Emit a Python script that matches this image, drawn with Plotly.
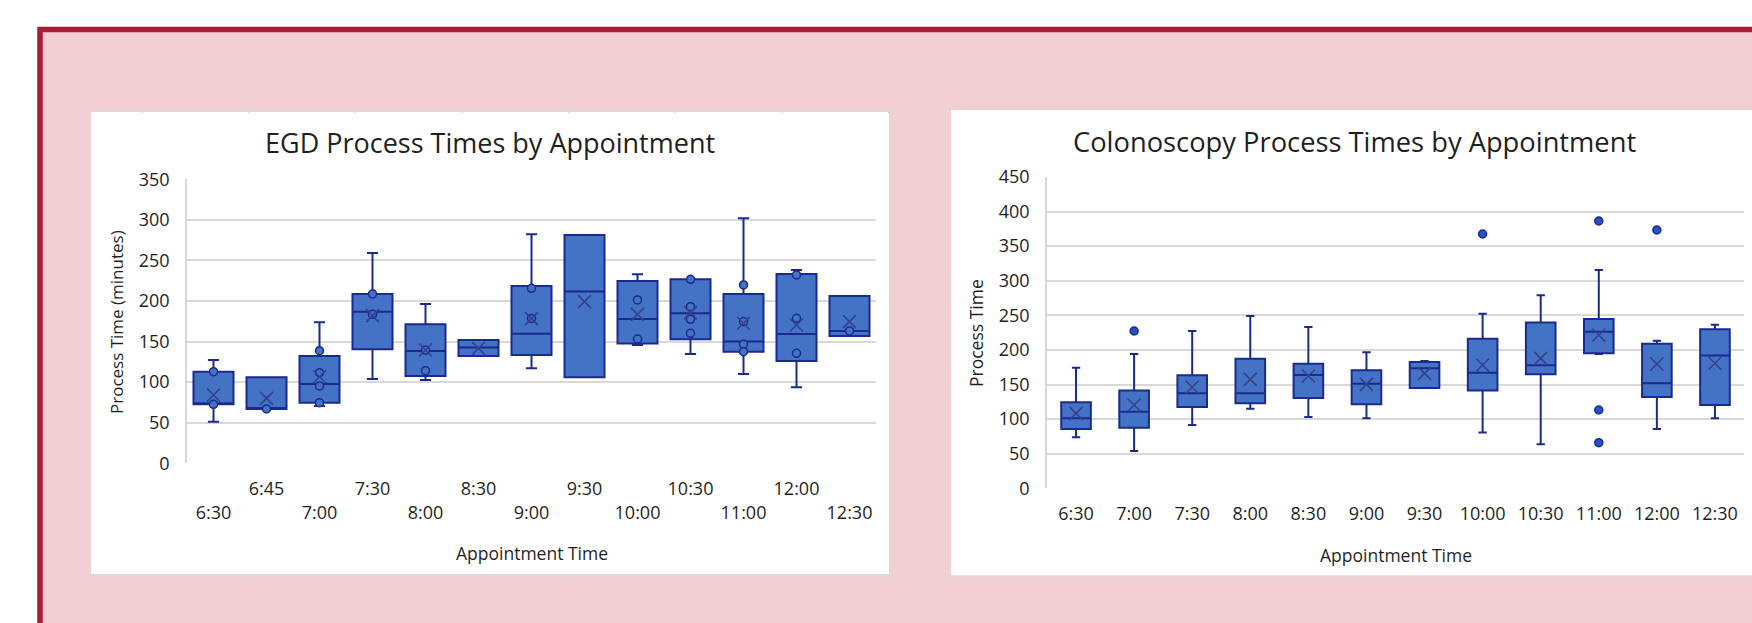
import plotly.graph_objects as go

W, H = 1752, 623

# ---------------- EGD data ----------------
egd_cats = ["6:30", "6:45", "7:00", "7:30", "8:00", "8:30", "9:00", "9:30",
            "10:00", "10:30", "11:00", "12:00", "12:30"]
egd_q1 = [72.7, 67, 74.7, 140.5, 107.6, 132.3, 133.5, 106, 147.5, 152.8, 137.6, 126.1, 156.9]
egd_median = [74, 67, 97.7, 186.9, 138.4, 142.6, 159.8, 211.6, 177.9, 184.9, 150, 159.4, 163.1]
egd_q3 = [112.9, 106, 132.2, 208.7, 171.3, 152, 218.6, 281.4, 224.7, 226.8, 208.7, 233.4, 206.2]
egd_low = [51.3, 67, 70.6, 103.9, 102.7, 132.3, 117.1, 106, 145.8, 134.8, 110.1, 93.7, 156.9]
egd_high = [127.4, 106, 173.8, 259.2, 196.3, 152, 282.3, 281.4, 233, 226.8, 302, 238.3, 206.2]
egd_mean = [84.2, 80, 106.7, 182, 139.6, 141.7, 178.3, 199.3, 183.6, 185.7, 172.6, 170.5, 174.6]
egd_pt_cat = ["6:30", "6:30", "6:45", "7:00", "7:00", "7:00", "7:00", "7:30", "7:30",
              "8:00", "8:00", "9:00", "9:00", "10:00", "10:00", "10:30", "10:30",
              "10:30", "10:30", "11:00", "11:00", "11:00", "11:00", "12:00", "12:00",
              "12:00", "12:30"]
egd_pt_val = [112.9, 72.7, 67, 138.8, 111.7, 95.3, 74.7, 208.7, 183.6,
              139.6, 114.1, 215.7, 178.3, 201.3, 153.2, 226.8, 193,
              177.5, 160.2, 219.8, 174.6, 146.7, 137.6, 232.1, 178.7,
              135.6, 163.1]

# ---------------- Colonoscopy data ----------------
col_cats = ["6:30", "7:00", "7:30", "8:00", "8:30", "9:00", "9:30",
            "10:00", "10:30", "11:00", "12:00", "12:30"]
col_q1 = [85.8, 87.7, 117.6, 122.9, 130.6, 121.4, 145, 141.2, 164.8, 195.1, 132, 120.4]
col_median = [101.2, 110.8, 137.3, 137.3, 163.8, 151.3, 173.4, 167.2, 177.8, 226.4, 151.8, 191.8]
col_q3 = [124.3, 141.2, 163.3, 187.4, 180.2, 170.6, 182.6, 216.3, 239.5, 244.8, 209.1, 229.8]
col_low = [73.7, 54, 91.5, 115.1, 103.1, 101.2, 145, 80.5, 63.6, 194.2, 85.8, 101.2]
col_high = [174.4, 194.2, 227.4, 249.1, 233.2, 196.6, 184, 252.5, 279, 315.6, 213.4, 236.6]
col_mean = [108.4, 120.4, 146, 157.5, 162.4, 150.3, 166.2, 178.3, 187.9, 221.6, 179.7, 180.7]
col_out_cat = ["7:00", "10:00", "11:00", "11:00", "11:00", "12:00"]
col_out_val = [227.4, 367.6, 386.4, 113.2, 66, 373.4]

# ---------------- styling ----------------
BOX_FILL = "#4472C4"
BOX_LINE = "#1A2A8F"
GRID = "#D9D9D9"
TXT = "#1F1F1F"
FONT = "Open Sans"


def px(x):
    return x / W


def py(y):
    return 1 - y / H


# EGD x labels staggered on two rows
egd_ticktext = [("<br>" + c) if i % 2 == 0 else c for i, c in enumerate(egd_cats)]

fig = go.Figure()

fig.add_trace(go.Box(
    x=egd_cats, q1=egd_q1, median=egd_median, q3=egd_q3,
    lowerfence=egd_low, upperfence=egd_high,
    fillcolor=BOX_FILL, line=dict(color=BOX_LINE, width=2),
    whiskerwidth=0.28, width=0.755, boxpoints=False,
    xaxis="x", yaxis="y", showlegend=False, hoverinfo="skip"))
fig.add_trace(go.Scatter(
    x=egd_pt_cat, y=egd_pt_val, mode="markers",
    marker=dict(symbol="circle", size=8, color=BOX_FILL,
                line=dict(color=BOX_LINE, width=1.5)),
    xaxis="x", yaxis="y", showlegend=False, hoverinfo="skip"))
fig.add_trace(go.Scatter(
    x=egd_cats, y=egd_mean, mode="markers",
    marker=dict(symbol="x-thin", size=13,
                line=dict(color="#34428A", width=1.6)),
    xaxis="x", yaxis="y", showlegend=False, hoverinfo="skip"))

fig.add_trace(go.Box(
    x=col_cats, q1=col_q1, median=col_median, q3=col_q3,
    lowerfence=col_low, upperfence=col_high,
    fillcolor=BOX_FILL, line=dict(color=BOX_LINE, width=2),
    whiskerwidth=0.28, width=0.51, boxpoints=False,
    xaxis="x2", yaxis="y2", showlegend=False, hoverinfo="skip"))
fig.add_trace(go.Scatter(
    x=col_out_cat, y=col_out_val, mode="markers",
    marker=dict(symbol="circle", size=8, color="#2453C0",
                line=dict(color=BOX_LINE, width=1.5)),
    xaxis="x2", yaxis="y2", showlegend=False, hoverinfo="skip"))
fig.add_trace(go.Scatter(
    x=col_cats, y=col_mean, mode="markers",
    marker=dict(symbol="x-thin", size=13,
                line=dict(color="#34428A", width=1.6)),
    xaxis="x2", yaxis="y2", showlegend=False, hoverinfo="skip"))

# ---------------- background shapes ----------------
shapes = [
    dict(type="rect", xref="paper", yref="paper", layer="below",
         x0=px(40), x1=px(1800), y0=py(700), y1=py(29.5),
         fillcolor="#F2CFD0", line=dict(color="#A81C38", width=5.5)),
    dict(type="rect", xref="paper", yref="paper", layer="below",
         x0=px(91), x1=px(889), y0=py(575), y1=py(110.5),
         fillcolor="white", line=dict(width=0)),
    dict(type="line", xref="paper", yref="paper", layer="below",
         x0=px(91), x1=px(889), y0=py(111), y1=py(111),
         line=dict(color=GRID, width=2)),
    dict(type="line", xref="paper", yref="paper", layer="below",
         x0=px(91), x1=px(889), y0=py(575), y1=py(575),
         line=dict(color=GRID, width=2)),
    dict(type="rect", xref="paper", yref="paper", layer="below",
         x0=px(951), x1=px(1800), y0=py(576), y1=py(110),
         fillcolor="white", line=dict(width=0)),
    dict(type="line", xref="paper", yref="paper", layer="below",
         x0=px(951), x1=px(1800), y0=py(576), y1=py(576),
         line=dict(color="#E4DADA", width=1.5)),
]
tx = 141.7
while tx < 889:
    shapes.append(dict(type="line", xref="paper", yref="paper", layer="below",
                       x0=px(tx), x1=px(tx), y0=py(109), y1=py(113),
                       line=dict(color=GRID, width=1.5)))
    shapes.append(dict(type="line", xref="paper", yref="paper", layer="below",
                       x0=px(tx), x1=px(tx), y0=py(574), y1=py(578),
                       line=dict(color=GRID, width=1.5)))
    tx += 106.7

annotations = [
    dict(text="EGD Process Times by Appointment", x=px(490.5), y=py(143),
         xref="paper", yref="paper", showarrow=False, xanchor="center", yanchor="middle",
         font=dict(family=FONT, size=27, color=TXT)),
    dict(text="Colonoscopy Process Times by Appointment", x=px(1354.5), y=py(142),
         xref="paper", yref="paper", showarrow=False, xanchor="center", yanchor="middle",
         font=dict(family=FONT, size=27.3, color=TXT)),
    dict(text="Appointment Time", x=px(531.5), y=py(553),
         xref="paper", yref="paper", showarrow=False, xanchor="center", yanchor="middle",
         font=dict(family=FONT, size=17.5, color=TXT)),
    dict(text="Appointment Time", x=px(1395.5), y=py(555),
         xref="paper", yref="paper", showarrow=False, xanchor="center", yanchor="middle",
         font=dict(family=FONT, size=17.5, color=TXT)),
    dict(text="Process Time (minutes)", x=px(116), y=py(322), textangle=-90,
         xref="paper", yref="paper", showarrow=False, xanchor="center", yanchor="middle",
         font=dict(family=FONT, size=17, color=TXT)),
    dict(text="Process Time", x=px(976), y=py(333), textangle=-90,
         xref="paper", yref="paper", showarrow=False, xanchor="center", yanchor="middle",
         font=dict(family=FONT, size=17.5, color=TXT)),
]

tickfont = dict(family=FONT, size=18, color=TXT)

fig.update_layout(
    width=W, height=H, autosize=False,
    margin=dict(l=0, r=0, t=0, b=0, pad=0, autoexpand=False),
    paper_bgcolor="white", plot_bgcolor="rgba(0,0,0,0)",
    shapes=shapes, annotations=annotations, showlegend=False,
    xaxis=dict(domain=[px(187), px(876)], anchor="y", type="category",
               categoryorder="array", categoryarray=egd_cats,
               tickmode="array", tickvals=egd_cats, ticktext=egd_ticktext,
               range=[-0.5, len(egd_cats) - 0.5], tickangle=0, automargin=False,
               showgrid=False, showline=False, zeroline=False, ticks="",
               ticklabelstandoff=13, tickfont=tickfont),
    yaxis=dict(domain=[py(463.3), py(179.3)], anchor="x", range=[0, 350], dtick=50,
               showgrid=True, gridcolor=GRID, gridwidth=1.5, zeroline=False,
               showline=True, linecolor=GRID, linewidth=1.5, ticks="", automargin=False,
               ticklabelstandoff=12, tickfont=tickfont),
    xaxis2=dict(domain=[px(1047), px(1744)], anchor="y2", type="category",
                categoryorder="array", categoryarray=col_cats,
                range=[-0.5, len(col_cats) - 0.5], tickangle=0, automargin=False,
                showgrid=False, showline=False, zeroline=False, ticks="",
                ticklabelstandoff=13, tickfont=tickfont),
    yaxis2=dict(domain=[py(488.3), py(177)], anchor="x2", range=[0, 450], dtick=50,
                showgrid=True, gridcolor=GRID, gridwidth=1.5, zeroline=False,
                showline=True, linecolor=GRID, linewidth=1.5, ticks="", automargin=False,
                ticklabelstandoff=12, tickfont=tickfont),
)

fig.write_html("out.html", config={"displayModeBar": False},
               post_script="document.body.style.margin='0';")
